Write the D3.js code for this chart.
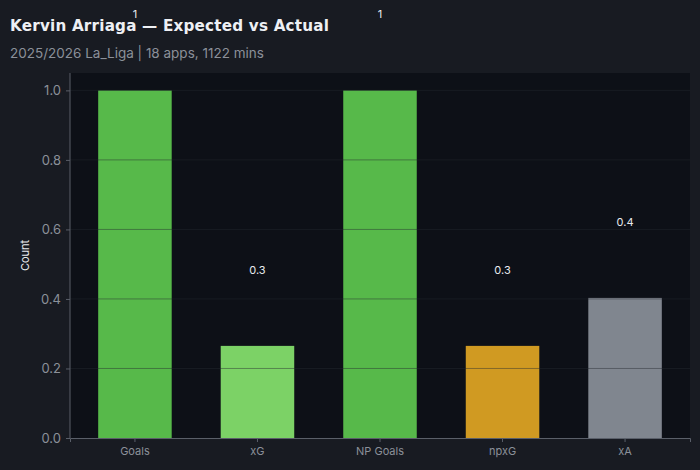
<!DOCTYPE html>
<html><head><meta charset="utf-8">
<script src="https://cdn.jsdelivr.net/npm/d3@7"></script>
<style>
html,body{margin:0;padding:0;background:#181b22;}
svg{display:block;font-family:Inter,"Noto Sans",sans-serif;}
</style></head>
<body><svg id="c" width="700" height="470"></svg>
<script>
const categories = ["Goals","xG","NP Goals","npxG","xA"];
const values = [1, 0.265, 1, 0.265, 0.403];
const valueLabels = ["1","0.3","1","0.3","0.4"];
const barColors = ["#57b94a","#7cd266","#57b94a","#d09a22","#80868f"];
const yTicks = [0,0.2,0.4,0.6,0.8,1.0];
const titleText = "Kervin Arriaga — Expected vs Actual";
const subtitleText = "2025/2026 La_Liga | 18 apps, 1122 mins";

const svg = d3.select("#c");
const m = {l:70, r:10, t:73, b:32};
const W = 700, H = 470;
const x = d3.scaleBand().domain(categories).range([m.l, W-m.r]).paddingInner(0.4).paddingOuter(0.23);
const y = d3.scaleLinear().domain([0,1.05]).range([H-m.b, m.t]);

svg.append("rect").attr("x",0).attr("y",0).attr("width",W).attr("height",H).attr("fill","#181b22");
svg.append("rect").attr("x",m.l).attr("y",m.t).attr("width",W-m.r-m.l).attr("height",H-m.b-m.t).attr("fill","#0d1017");

svg.append("g").selectAll("rect").data(categories).join("rect")
  .attr("x",d=>x(d)).attr("width",x.bandwidth())
  .attr("y",(d,i)=>y(values[i])).attr("height",(d,i)=>y(0)-y(values[i]))
  .attr("fill",(d,i)=>barColors[i]);

// grid on top
svg.append("g").selectAll("line").data(yTicks.filter(t=>t>0)).join("line")
  .attr("x1",m.l).attr("x2",W-m.r).attr("y1",d=>y(d)).attr("y2",d=>y(d))
  .attr("stroke","#262a31").attr("stroke-opacity",0.45).attr("stroke-width",1);

// value labels
svg.append("g").selectAll("text").data(categories).join("text")
  .attr("x",d=>x(d)+x.bandwidth()/2).attr("y",(d,i)=>y(values[i]+0.22)+1.5)
  .attr("text-anchor","middle").attr("dominant-baseline","middle")
  .attr("fill","#e8eaee").attr("font-size",11).text((d,i)=>valueLabels[i]);

// axes
const yAxis = svg.append("g").attr("transform",`translate(${m.l},0)`)
  .call(d3.axisLeft(y).tickValues(yTicks).tickFormat(d3.format(".1f")).tickSize(4).tickPadding(5));
const xAxis = svg.append("g").attr("transform",`translate(0,${H-m.b})`)
  .call(d3.axisBottom(x).tickSize(4).tickPadding(5));
[yAxis,xAxis].forEach(g=>{
  g.select(".domain").attr("stroke","#5a5f69");
  g.selectAll(".tick line").attr("stroke","#5a5f69");
  g.selectAll(".tick text").attr("fill","#8b9099").style("font-family","Inter,'Noto Sans',sans-serif");
});
yAxis.selectAll(".tick text").attr("font-size",13);
xAxis.selectAll(".tick text").attr("font-size",11);
yAxis.select(".domain").attr("d",`M0,${y(0)}V${m.t}`);

svg.append("text").attr("transform",`translate(29,${(m.t+H-m.b)/2}) rotate(-90)`)
  .attr("text-anchor","middle").attr("fill","#e8eaee").attr("font-size",11).text("Count");

svg.append("text").attr("x",10).attr("y",31).attr("fill","#eef0f4")
  .attr("font-size",15.2).attr("font-weight","bold").style("font-family","'DejaVu Sans',sans-serif").style("letter-spacing","0.2px").text(titleText);
svg.append("text").attr("x",10).attr("y",58).attr("fill","#8b9099")
  .attr("font-size",13.5).text(subtitleText);
</script></body></html>
